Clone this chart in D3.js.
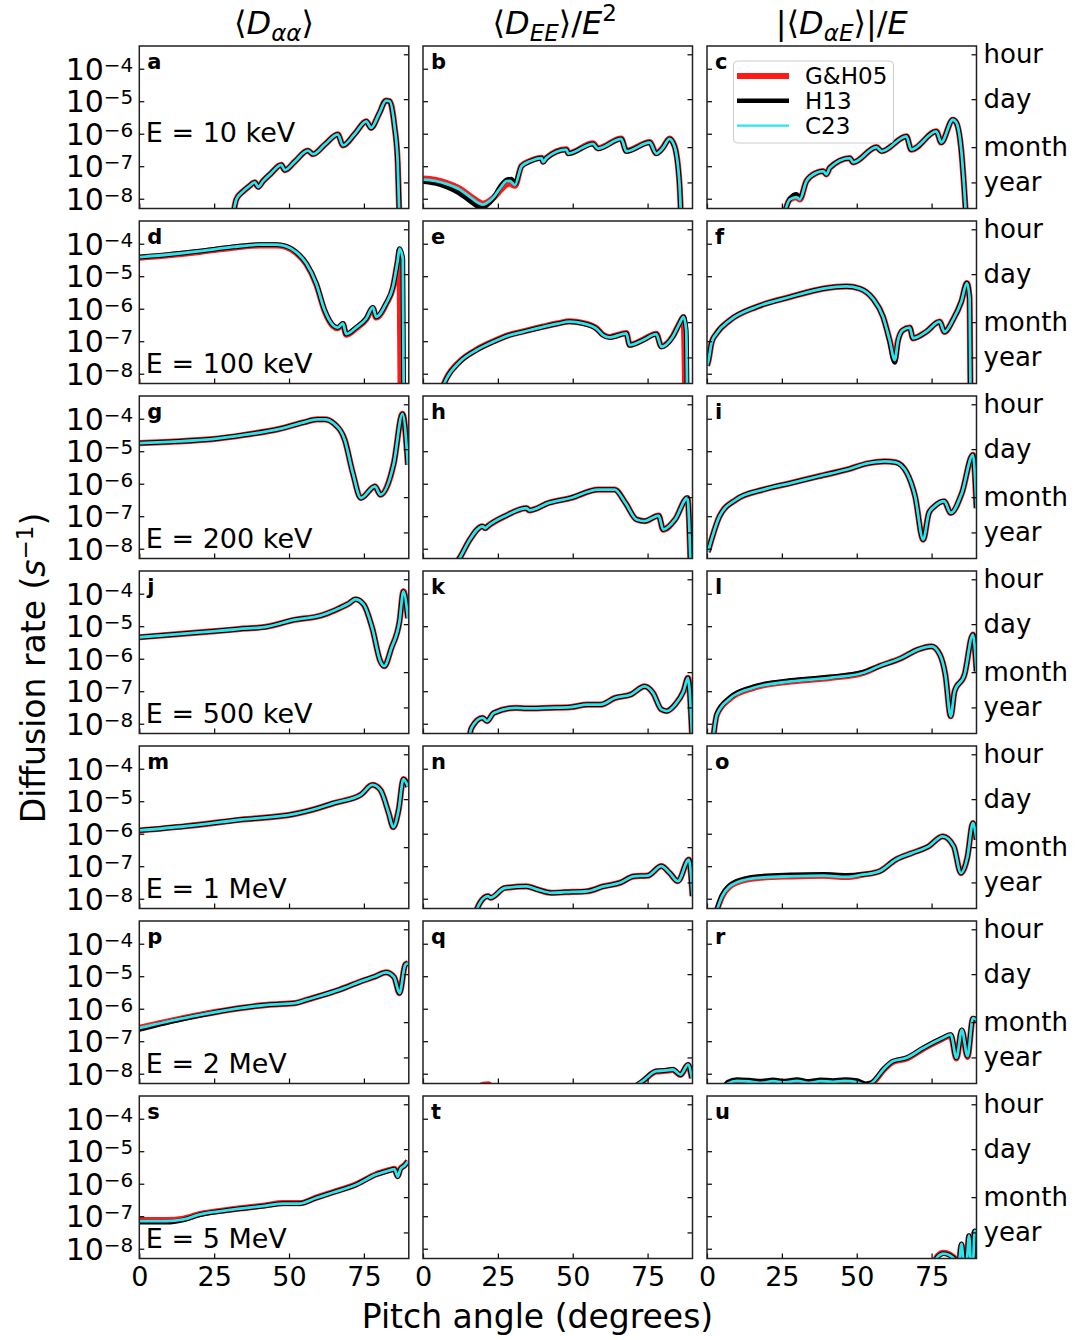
<!DOCTYPE html>
<html><head><meta charset="utf-8">
<script src="https://cdn.jsdelivr.net/npm/d3@7"></script>
<style>
body{margin:0;background:#fff}
text{font-family:"DejaVu Sans",sans-serif;fill:#000}
</style></head>
<body><svg id="chart" width="1086" height="1340"></svg>
<script>
// ===== DATA: [pitch angle (deg), log10 diffusion rate (s^-1)] =====
const energies = ["E = 10 keV","E = 100 keV","E = 200 keV","E = 500 keV","E = 1 MeV","E = 2 MeV","E = 5 MeV"];
const panelLetters = ["a","b","c","d","e","f","g","h","i","j","k","l","m","n","o","p","q","r","s","t","u"];
const seriesNames = ["G&H05","H13","C23"];
const seriesColors = ["#ff1a1a","#000000","#2ae6ec"];
const xTicks = [0,25,50,75];
const yTicks = [1e-4,1e-5,1e-6,1e-7,1e-8];
const yTickExp = ["−4","−5","−6","−7","−8"];
const timeLabels = ["hour","day","month","year"];
const timeSeconds = [3600,86400,2592000,31536000];

// row 1: 10 keV
const a_C23 = [[31.2,-8.6],[32.4,-8.02],[34.7,-7.77],[36.5,-7.63],[38.6,-7.5],[39.7,-7.64],[41.3,-7.46],[44,-7.22],[47.4,-6.96],[48.6,-7.12],[52,-6.85],[56.3,-6.52],[58,-6.63],[62,-6.33],[66.3,-6.02],[68,-6.36],[72,-6.0],[75.8,-5.62],[77.4,-5.82],[80,-5.4],[82.4,-4.98],[83.6,-5.0],[85.2,-5.75],[86.3,-6.9],[86.9,-8.7]];
const a_H13 = a_C23, a_GH05 = a_C23;
const b_C23 = [[0,-7.41],[4,-7.45],[8,-7.55],[12.3,-7.72],[15,-7.9],[16.8,-8.02],[18.5,-8.13],[20.1,-8.18],[21.5,-8.12],[23.4,-7.97],[26,-7.65],[27.9,-7.46],[29,-7.45],[30.7,-7.58],[32.9,-7.0],[35.7,-6.85],[39.6,-6.75],[40.1,-6.87],[41.2,-6.75],[47.9,-6.49],[48.5,-6.61],[56.8,-6.31],[58.4,-6.46],[66.2,-6.16],[67.9,-6.54],[75.7,-6.27],[77.9,-6.61],[80.1,-6.44],[82.3,-6.16],[84,-6.39],[85.7,-7.6],[86.2,-8.7]];
const b_H13 = [[0,-7.47],[4,-7.52],[8,-7.64],[12,-7.82],[15,-8.02],[18,-8.22],[19.5,-8.3],[21,-8.22],[23.4,-8.0],[26,-7.6],[28,-7.42],[29.5,-7.4],[30.7,-7.55],[32.9,-7.0],[35.7,-6.85],[39.6,-6.75],[40.1,-6.87],[41.2,-6.75],[47.9,-6.49],[48.5,-6.61],[56.8,-6.31],[58.4,-6.46],[66.2,-6.16],[67.9,-6.54],[75.7,-6.27],[77.9,-6.61],[80.1,-6.44],[82.3,-6.16],[84,-6.39],[85.7,-7.6],[86.2,-8.7]];
const b_GH05 = [[0,-7.38],[4,-7.42],[8,-7.52],[12.3,-7.69],[16.8,-7.99],[20.1,-8.15],[23.4,-7.98],[26,-7.72],[27.9,-7.56],[29,-7.53],[30.7,-7.6],[32.9,-6.99],[35.7,-6.84],[39.6,-6.74],[40.1,-6.86],[41.2,-6.74],[47.9,-6.48],[48.5,-6.6],[56.8,-6.3],[58.4,-6.45],[66.2,-6.15],[67.9,-6.53],[75.7,-6.26],[77.9,-6.6],[80.1,-6.43],[82.3,-6.15],[84,-6.38],[85.7,-7.6],[86.2,-8.7]];
const c_C23 = [[25.4,-8.6],[27.7,-8.02],[29.9,-7.95],[31,-8.02],[33.2,-7.46],[36.6,-7.2],[38.8,-7.15],[39.9,-7.25],[41,-7.05],[47.7,-6.75],[48.8,-6.88],[56.6,-6.41],[58.3,-6.54],[66.6,-6.08],[68.2,-6.49],[76.6,-5.93],[78.2,-6.27],[82.1,-5.57],[83.2,-5.65],[84.9,-6.49],[86,-7.82],[86.6,-8.7]];
const c_H13 = [[25.4,-8.6],[27.7,-8.0],[29.9,-7.87],[31,-7.99],[33.2,-7.46],[36.6,-7.2],[38.8,-7.15],[39.9,-7.25],[41,-7.05],[47.7,-6.75],[48.8,-6.88],[56.6,-6.41],[58.3,-6.54],[66.6,-6.08],[68.2,-6.49],[76.6,-5.93],[78.2,-6.27],[82.1,-5.57],[83.2,-5.65],[84.9,-6.49],[86,-7.82],[86.6,-8.7]];
const c_GH05 = c_C23;
// row 2: 100 keV
const d_C23 = [[0,-4.41],[9.1,-4.34],[20.2,-4.23],[31.3,-4.1],[40.2,-4.03],[45.8,-4.03],[49.1,-4.08],[52.4,-4.26],[55.8,-4.61],[59.1,-5.23],[61.9,-6.05],[64.7,-6.51],[66.3,-6.58],[68,-6.45],[69.1,-6.78],[72.4,-6.58],[75.8,-6.3],[78,-5.96],[79.1,-6.25],[82.4,-5.84],[84.7,-5.33],[86.3,-4.51],[86.9,-4.15],[88,-4.46],[88.3,-8.7]];
const d_H13 = d_C23;
const d_GH05 = [[0,-4.43],[9.1,-4.36],[20.2,-4.25],[31.3,-4.12],[40.2,-4.05],[45.8,-4.05],[49.1,-4.1],[52.4,-4.28],[55.8,-4.63],[59.1,-5.25],[61.9,-6.07],[64.7,-6.53],[66.3,-6.6],[68,-6.47],[69.1,-6.8],[72.4,-6.6],[75.8,-6.32],[78,-5.98],[79.1,-6.27],[82.4,-5.86],[84.7,-5.35],[86.3,-4.53],[86.9,-4.2],[87.3,-8.7]];
const e_C23 = [[6.2,-8.5],[7.9,-8.14],[12.3,-7.63],[17.9,-7.27],[23.4,-7.02],[29,-6.81],[33.4,-6.71],[40.1,-6.56],[45,-6.46],[49,-6.4],[53.4,-6.45],[57.9,-6.61],[60.1,-6.81],[62.3,-6.88],[67.9,-6.76],[69,-7.12],[73.4,-6.97],[77.9,-6.78],[79.6,-7.17],[83.4,-6.86],[85.7,-6.45],[87,-6.25],[87.9,-6.66],[88.2,-8.7]];
const e_H13 = e_C23;
const e_GH05 = [[6.2,-8.5],[7.9,-8.13],[12.3,-7.62],[17.9,-7.26],[23.4,-7.01],[29,-6.8],[33.4,-6.7],[40.1,-6.55],[45,-6.45],[49,-6.39],[53.4,-6.44],[57.9,-6.6],[60.1,-6.8],[62.3,-6.87],[67.9,-6.75],[69,-7.11],[73.4,-6.96],[77.9,-6.77],[79.6,-7.16],[83.4,-6.85],[85.7,-6.44],[87,-6.26],[87.6,-8.7]];
const f_C23 = [[0,-7.75],[0.4,-7.63],[1.6,-7.02],[3.2,-6.76],[7.7,-6.35],[16.6,-5.94],[27.7,-5.64],[38.8,-5.38],[46.6,-5.31],[51,-5.38],[55.4,-5.69],[58.8,-6.25],[61,-6.97],[62.7,-7.58],[63.8,-6.97],[65.4,-6.66],[67.7,-6.58],[68.8,-6.91],[73.2,-6.71],[77.7,-6.4],[79.3,-6.71],[82.1,-6.35],[84.9,-5.79],[86.8,-5.21],[87.7,-5.69],[88,-8.7]];
const f_H13 = [[0,-7.75],[0.4,-7.63],[1.6,-7.02],[3.2,-6.76],[7.7,-6.35],[16.6,-5.94],[27.7,-5.64],[38.8,-5.38],[46.6,-5.31],[51,-5.38],[55.4,-5.69],[58.8,-6.25],[61,-6.99],[62.7,-7.65],[63.8,-6.99],[65.4,-6.66],[67.7,-6.58],[68.8,-6.91],[73.2,-6.71],[77.7,-6.4],[79.3,-6.71],[82.1,-6.35],[84.9,-5.79],[86.8,-5.21],[87.7,-5.69],[88,-8.7]];
const f_GH05 = f_C23;
// row 3: 200 keV
const g_C23 = [[0,-4.75],[10,-4.71],[24.4,-4.63],[35,-4.5],[46.5,-4.32],[55,-4.11],[59.4,-4.02],[62,-4.02],[64.9,-4.14],[68.6,-4.65],[71.3,-5.67],[74,-6.44],[78.7,-6.08],[80.5,-6.34],[85,-5.37],[87.9,-3.85],[89.7,-5.42]];
const g_H13 = g_C23, g_GH05 = g_C23;
const h_C23 = [[10.7,-8.5],[12.6,-8.23],[15.3,-7.77],[19.9,-7.31],[20.8,-7.37],[21.7,-7.3],[27.3,-7.0],[34.6,-6.75],[35.5,-6.82],[42,-6.59],[49.3,-6.44],[58.5,-6.18],[64,-6.18],[67.6,-6.59],[71.3,-7.1],[74,-7.15],[78.7,-6.98],[80.2,-7.41],[84.2,-7.1],[88.3,-6.44],[89.4,-8.7]];
const h_H13 = h_C23, h_GH05 = h_C23;
const i_C23 = [[0.3,-8.1],[1.5,-7.72],[4.2,-7.0],[9.7,-6.49],[18.9,-6.18],[28,-5.98],[37.3,-5.77],[46.5,-5.57],[53.9,-5.37],[59.4,-5.31],[63,-5.34],[66.7,-5.66],[69.5,-6.39],[72.2,-7.72],[74.1,-6.9],[75.9,-6.7],[79.2,-6.54],[81.4,-6.9],[85.1,-6.29],[88.8,-5.11],[90,-6.75]];
const i_H13 = i_C23, i_GH05 = i_C23;
// row 4: 500 keV
const j_C23 = [[0,-5.34],[12,-5.25],[24.4,-5.16],[33,-5.09],[42.8,-5.01],[52,-4.8],[59.4,-4.7],[62,-4.63],[66.7,-4.45],[70,-4.3],[72.2,-4.17],[75,-4.34],[77.8,-5.06],[80.5,-6.08],[81.8,-6.23],[84.2,-5.67],[86.9,-4.85],[88.2,-3.93],[89.7,-4.75]];
const j_H13 = j_C23, j_GH05 = j_C23;
const k_C23 = [[15.3,-8.5],[16.2,-8.13],[19.9,-7.82],[21.4,-7.92],[23.6,-7.67],[31,-7.51],[34.6,-7.53],[42,-7.51],[49.3,-7.49],[54.8,-7.41],[59.4,-7.41],[64,-7.21],[69.5,-7.1],[74,-6.85],[76.8,-7.05],[79.6,-7.56],[81.4,-7.61],[84.2,-7.41],[87,-7.0],[88.5,-6.59],[89.8,-8.28]];
const k_H13 = k_C23, k_GH05 = k_C23;
const l_C23 = [[2,-8.5],[3.3,-7.72],[7.9,-7.21],[15.3,-6.9],[28,-6.7],[41,-6.59],[52,-6.44],[57.5,-6.23],[64.9,-5.98],[70.4,-5.72],[75,-5.62],[77.8,-5.88],[79.6,-6.49],[81.4,-7.77],[82.7,-7.0],[86,-6.49],[88.8,-5.26],[90,-6.39]];
const l_H13 = [[2,-8.5],[3.3,-7.7],[7.9,-7.18],[15.3,-6.87],[28,-6.67],[41,-6.56],[52,-6.42],[57.5,-6.23],[64.9,-5.98],[70.4,-5.72],[75,-5.62],[77.8,-5.88],[79.6,-6.49],[81.4,-7.77],[82.7,-7.0],[86,-6.49],[88.8,-5.26],[90,-6.39]];
const l_GH05 = l_C23;
// row 5: 1 MeV
const m_C23 = [[0,-5.9],[15.3,-5.77],[33.6,-5.57],[52,-5.39],[57.5,-5.27],[64.9,-5.06],[74,-4.8],[77.8,-4.5],[80.5,-4.65],[83.3,-5.37],[84.8,-5.8],[86.6,-5.27],[88.2,-4.32],[89.7,-4.55]];
const m_H13 = m_C23, m_GH05 = m_C23;
const n_C23 = [[17.2,-8.5],[19,-8.13],[21.7,-7.92],[22.6,-7.97],[27.3,-7.67],[34.6,-7.62],[38.3,-7.72],[42.9,-7.82],[47.5,-7.8],[54.8,-7.77],[60.3,-7.62],[65.8,-7.51],[70.4,-7.31],[75,-7.29],[79.6,-7.0],[82.4,-7.21],[85.1,-7.46],[88.8,-6.8],[90,-7.92]];
const n_H13 = n_C23, n_GH05 = n_C23;
const o_C23 = [[2.8,-8.5],[5.1,-7.92],[9.7,-7.51],[17,-7.36],[28,-7.31],[39,-7.29],[46.5,-7.33],[52,-7.26],[57.5,-7.16],[63,-6.8],[68.6,-6.59],[74,-6.39],[78.7,-6.08],[82.4,-6.39],[84.8,-7.21],[87,-6.7],[88.8,-5.67],[90,-6.18]];
const o_H13 = [[2.8,-8.5],[5.1,-7.88],[9.7,-7.47],[17,-7.32],[28,-7.27],[39,-7.25],[46.5,-7.28],[52,-7.25],[57.5,-7.16],[63,-6.8],[68.6,-6.59],[74,-6.39],[78.7,-6.08],[82.4,-6.39],[84.8,-7.21],[87,-6.7],[88.8,-5.67],[90,-6.18]];
const o_GH05 = o_C23;
// row 6: 2 MeV
const p_C23 = [[0,-6.59],[15.3,-6.28],[33.6,-5.98],[42.8,-5.88],[52,-5.83],[55.7,-5.73],[66.7,-5.42],[74,-5.16],[78.7,-5.01],[82.4,-4.88],[85.1,-5.03],[86.9,-5.52],[88.8,-4.65],[89.7,-4.6]];
const p_H13 = [[0,-6.64],[15.3,-6.3],[33.6,-5.98],[42.8,-5.88],[52,-5.83],[55.7,-5.73],[66.7,-5.42],[74,-5.16],[78.7,-5.01],[82.4,-4.88],[85.1,-5.03],[86.9,-5.52],[88.8,-4.65],[89.7,-4.6]];
const p_GH05 = p_C23;
const q_C23 = [[68.7,-8.5],[73.3,-8.23],[77.9,-7.92],[81,-7.9],[83.4,-7.87],[86,-8.03],[88.5,-7.72],[89.8,-8.13]];
const q_H13 = q_C23;
const q_GH05 = [[18,-8.6],[20,-8.34],[22,-8.33],[24,-8.6],[68.7,-8.55],[73.3,-8.24],[77.9,-7.93],[81,-7.91],[83.4,-7.88],[86,-8.04],[88.5,-7.73],[89.8,-8.14]];
const r_C23 = [[5,-8.5],[7,-8.3],[10,-8.22],[14,-8.24],[18,-8.28],[22,-8.23],[26,-8.27],[30,-8.22],[34,-8.28],[38,-8.23],[42,-8.25],[46,-8.22],[50,-8.26],[53,-8.35],[54.8,-8.3],[59.4,-7.82],[62,-7.62],[66.7,-7.51],[72.2,-7.21],[78.7,-6.9],[81.4,-6.8],[83.3,-7.51],[85.1,-6.65],[87,-7.46],[88.8,-6.29],[90,-6.34]];
const r_H13 = [[5,-8.5],[7,-8.26],[10,-8.18],[14,-8.2],[18,-8.23],[22,-8.19],[26,-8.23],[30,-8.18],[34,-8.24],[38,-8.19],[42,-8.21],[46,-8.18],[50,-8.21],[53,-8.31],[54.8,-8.28],[59.4,-7.82],[62,-7.62],[66.7,-7.51],[72.2,-7.21],[78.7,-6.9],[81.4,-6.8],[83.3,-7.51],[85.1,-6.65],[87,-7.46],[88.8,-6.29],[90,-6.34]];
const r_GH05 = [[5,-8.5],[7,-8.32],[10,-8.25],[14,-8.27],[18,-8.3],[22,-8.26],[26,-8.29],[30,-8.25],[34,-8.3],[38,-8.26],[42,-8.28],[46,-8.25],[50,-8.29],[53,-8.37],[54.8,-8.32],[59.4,-7.84],[62,-7.64],[66.7,-7.53],[72.2,-7.23],[78.7,-6.92],[81.4,-6.82],[83.3,-7.53],[85.1,-6.67],[87,-7.48],[88.8,-6.31],[90,-6.36]];
// row 7: 5 MeV
const s_C23 = [[0,-7.15],[9.1,-7.15],[14.7,-7.1],[20,-6.95],[31,-6.8],[42,-6.68],[48,-6.61],[53.6,-6.61],[59,-6.44],[64.7,-6.27],[72.4,-6.03],[79,-5.72],[83.6,-5.59],[85.2,-5.55],[86.3,-5.78],[87.2,-5.55],[88.6,-5.44],[89.7,-5.31]];
const s_H13 = [[0,-7.18],[9.1,-7.18],[14.7,-7.11],[20,-6.96],[31,-6.8],[42,-6.68],[48,-6.61],[53.6,-6.61],[59,-6.44],[64.7,-6.27],[72.4,-6.03],[79,-5.72],[83.6,-5.59],[85.2,-5.55],[86.3,-5.78],[87.2,-5.55],[88.6,-5.44],[89.7,-5.31]];
const s_GH05 = [[0,-7.12],[9.1,-7.12],[14.7,-7.08],[20,-6.94],[31,-6.79],[42,-6.67],[48,-6.6],[53.6,-6.6],[59,-6.43],[64.7,-6.26],[72.4,-6.02],[79,-5.71],[83.6,-5.58],[85.2,-5.54],[86.3,-5.77],[87.2,-5.54],[88.6,-5.43],[89.7,-5.3]];
const t_C23 = [], t_H13 = [], t_GH05 = [];
const u_C23 = [[75,-8.6],[77,-8.25],[79,-8.15],[81,-8.2],[83,-8.35],[84,-8.5],[85,-7.85],[85.8,-8.5],[86.6,-8.5],[87.5,-7.6],[88.2,-8.5],[88.8,-8.45],[89.4,-7.45],[90,-7.5]];
const u_H13 = u_C23;
const u_GH05 = [[75,-8.6],[77,-8.23],[79,-8.13],[81,-8.18],[83,-8.34],[84,-8.5],[85,-7.88],[85.8,-8.5],[86.6,-8.5],[87.5,-7.63],[88.2,-8.5],[88.8,-8.45],[89.4,-7.48],[90,-7.53]];

const panelData = [
  [a_GH05,a_H13,a_C23],[b_GH05,b_H13,b_C23],[c_GH05,c_H13,c_C23],
  [d_GH05,d_H13,d_C23],[e_GH05,e_H13,e_C23],[f_GH05,f_H13,f_C23],
  [g_GH05,g_H13,g_C23],[h_GH05,h_H13,h_C23],[i_GH05,i_H13,i_C23],
  [j_GH05,j_H13,j_C23],[k_GH05,k_H13,k_C23],[l_GH05,l_H13,l_C23],
  [m_GH05,m_H13,m_C23],[n_GH05,n_H13,n_C23],[o_GH05,o_H13,o_C23],
  [p_GH05,p_H13,p_C23],[q_GH05,q_H13,q_C23],[r_GH05,r_H13,r_C23],
  [s_GH05,s_H13,s_C23],[t_GH05,t_H13,t_C23],[u_GH05,u_H13,u_C23]
];

// ===== LAYOUT =====
const svg = d3.select("#chart");
const colX = [139.3, 423, 707];
const W = 269.5, H = 162.5;
const rowTop = r => 46 + 175*r;
const lineWidths = [6.2, 4.8, 2.8];
const legendWidths = [6, 4.5, 2.4];

const x = d3.scaleLinear().domain([0,90]).range([0,W]);
const y = d3.scaleLog().domain([5e-9, 5e-4]).range([H,0]);
const line = d3.line().x(d => x(d[0])).y(d => y(Math.pow(10, d[1]))).curve(d3.curveMonotoneX);

const defs = svg.append("defs");
defs.append("clipPath").attr("id","pclip").append("rect").attr("x",0).attr("y",0).attr("width",W).attr("height",H);

for (let r = 0; r < 7; r++) {
  for (let c = 0; c < 3; c++) {
    const idx = r*3 + c;
    const g = svg.append("g").attr("transform", `translate(${colX[c]},${rowTop(r)})`);
    const cg = g.append("g").attr("clip-path","url(#pclip)");
    panelData[idx].forEach((ser, si) => {
      if (!ser.length) return;
      cg.append("path").datum(ser).attr("d", line)
        .attr("fill","none").attr("stroke", seriesColors[si])
        .attr("stroke-width", lineWidths[si]).attr("stroke-linejoin","round");
    });
    g.append("g").call(d3.axisLeft(y).tickValues(yTicks).tickSize(-5).tickFormat(""))
      .call(s => s.select(".domain").remove())
      .selectAll("line").attr("stroke","#000").attr("stroke-width",1.2);
    const rAx = g.append("g").attr("transform",`translate(${W},0)`)
      .call(d3.axisRight(y).tickValues(timeSeconds.map(s => 1/s)).tickSize(-5).tickPadding(7)
        .tickFormat((d,i) => c === 2 ? timeLabels[i] : ""));
    rAx.select(".domain").remove();
    rAx.selectAll("line").attr("stroke","#000").attr("stroke-width",1.2);
    rAx.selectAll("text").attr("font-family","DejaVu Sans").attr("font-size",26).attr("fill","#000");
    const bAx = g.append("g").attr("transform",`translate(0,${H})`)
      .call(d3.axisBottom(x).tickValues(xTicks).tickSize(-5).tickPadding(8.5)
        .tickFormat(d => r === 6 ? d : ""));
    bAx.select(".domain").remove();
    bAx.selectAll("line").attr("stroke","#000").attr("stroke-width",1.2);
    bAx.selectAll("text").attr("font-family","DejaVu Sans").attr("font-size",27).attr("fill","#000");
    g.append("rect").attr("width",W).attr("height",H).attr("fill","none")
      .attr("stroke","#222").attr("stroke-width",1.5);
    g.append("text").attr("x",8).attr("y",23).attr("font-size",21).attr("font-weight","bold")
      .text(panelLetters[idx]);
    if (c === 0) {
      yTicks.forEach((v,i) => {
        const t = g.append("text").attr("x",-6).attr("y", y(v)+11).attr("text-anchor","end").attr("font-size",30);
        t.append("tspan").text("10");
        t.append("tspan").attr("dy",-8).attr("font-size",20).text(yTickExp[i]);
      });
      g.append("text").attr("x",6.5).attr("y", r === 0 ? 96 : 152).attr("font-size",27).text(energies[r]);
    }
  }
}

// column titles
const titleY = 34;
function title(cx, parts) {
  const t = svg.append("text").attr("x",cx).attr("y",titleY).attr("text-anchor","middle").attr("font-size",32);
  parts.forEach(p => {
    const ts = t.append("tspan").text(p.t);
    if (p.i) ts.attr("font-style","italic");
    if (p.dy) ts.attr("dy",p.dy);
    if (p.fs) ts.attr("font-size",p.fs);
  });
}
title(colX[0]+W/2, [{t:"⟨"},{t:"D",i:1},{t:"αα",i:1,dy:7,fs:23},{t:"⟩",dy:-7}]);
title(colX[1]+W/2 - 3, [{t:"⟨"},{t:"D",i:1},{t:"EE",i:1,dy:7,fs:23},{t:"⟩",dy:-7},{t:"/"},{t:"E",i:1},{t:"2",dy:-13,fs:23}]);
title(colX[2]+W/2, [{t:"|⟨"},{t:"D",i:1},{t:"αE",i:1,dy:7,fs:23},{t:"⟩|",dy:-7},{t:"/"},{t:"E",i:1}]);

// legend in panel c
const lg = svg.append("g").attr("transform",`translate(733.5,61)`);
lg.append("rect").attr("width",160).attr("height",82).attr("rx",4).attr("fill","#fff").attr("fill-opacity",0.8)
  .attr("stroke","#cccccc").attr("stroke-width",1);
seriesNames.forEach((nm,i) => {
  const yy = 15 + i*24.8;
  lg.append("line").attr("x1",3.5).attr("x2",55.5).attr("y1",yy).attr("y2",yy)
    .attr("stroke",seriesColors[i]).attr("stroke-width",legendWidths[i]);
  lg.append("text").attr("x",71.5).attr("y",yy+8).attr("font-size",23).text(nm);
});

// axis labels
svg.append("text").attr("x",537.5).attr("y",1328).attr("text-anchor","middle").attr("font-size",33)
  .text("Pitch angle (degrees)");
const yl = svg.append("text").attr("transform","translate(45,668) rotate(-90)").attr("text-anchor","middle").attr("font-size",33);
yl.append("tspan").text("Diffusion rate (");
yl.append("tspan").attr("font-style","italic").text("s");
yl.append("tspan").attr("dy",-12).attr("font-size",23).text("−1");
yl.append("tspan").attr("dy",12).text(")");
</script></body></html>
